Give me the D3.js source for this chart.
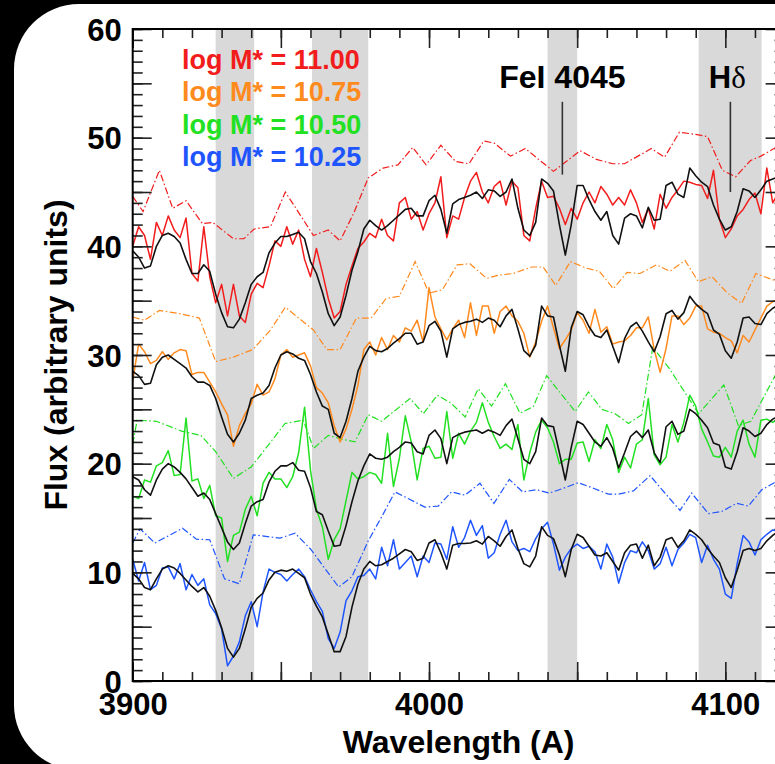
<!DOCTYPE html>
<html>
<head>
<meta charset="utf-8">
<script src="https://cdn.jsdelivr.net/npm/d3@7"></script>
<style>
body { margin: 0; background: #000; }
svg { display: block; }
text { font-family: "Liberation Sans", Arial, Helvetica, sans-serif; font-weight: bold; }
</style>
</head>
<body>
<svg id="chart" width="775" height="764"></svg>
<script>
// sampling grid of the stacked spectra (Angstrom)
const waveGrid = d3.range(3900, 4121, 2);

// stacked spectra, one value per grid point
const redFlux = [
	40.0, 41.8, 41.0, 38.8, 42.2, 41.0, 42.8, 41.5, 40.8, 42.6,
	37.5, 36.8, 41.8, 37.2, 34.8, 36.5, 33.6, 36.5, 33.6, 33.0,
	35.6, 36.6, 36.2, 38.2, 40.5, 40.0, 41.8, 40.2, 41.5, 38.8,
	37.2, 39.8, 37.6, 35.2, 33.4, 34.0, 36.5, 38.2, 39.8, 40.4,
	41.2, 40.8, 42.5, 41.0, 40.5, 44.0, 44.5, 42.5, 43.2, 41.5,
	43.0, 44.0, 46.4, 40.8, 42.8, 42.5, 44.5, 46.0, 46.8, 45.0,
	44.0, 45.5, 46.0, 43.8, 46.0, 45.4, 41.0, 40.5, 43.5, 46.0,
	44.5, 44.6, 43.5, 42.0, 43.5, 42.5, 44.0, 45.0, 44.0, 45.5,
	44.8, 43.8, 44.5, 43.8, 45.2, 44.0, 42.2, 43.5, 41.6, 44.8,
	43.5, 44.5, 45.2, 46.0, 45.9, 45.7, 45.6, 44.4, 47.0, 42.5,
	40.8, 41.6, 42.8, 43.4, 44.3, 44.9, 43.0, 47.2, 44.0, 45.0,
	44.5
];
const redModel = [
	39.6, 39.0, 38.0, 38.2, 40.0, 41.0, 41.2, 40.9, 40.3, 38.8,
	37.5, 37.5, 38.3, 37.7, 35.6, 33.9, 32.6, 32.5, 33.3, 34.8,
	36.5, 37.2, 37.6, 39.4, 40.3, 40.9, 40.9, 41.1, 41.3, 40.7,
	38.6, 37.5, 35.8, 33.8, 32.7, 33.5, 35.5, 37.8, 39.5, 41.6,
	42.4, 41.9, 41.5, 41.9, 42.4, 42.9, 43.4, 43.5, 42.8, 42.8,
	44.2, 44.7, 43.4, 41.2, 43.9, 44.3, 44.5, 44.7, 45.0, 44.4,
	45.2, 45.1, 44.6, 45.0, 46.2, 43.5, 41.5, 41.0, 42.2, 46.2,
	45.8, 45.1, 42.0, 39.2, 42.0, 45.6, 45.6, 44.3, 43.2, 42.4,
	43.2, 41.0, 40.2, 42.6, 43.0, 42.8, 41.7, 43.6, 42.4, 42.5,
	45.6, 45.9, 44.8, 44.5, 47.2, 46.5, 45.9, 45.5, 43.8, 42.5,
	41.5, 41.8, 43.2, 45.3, 45.1, 44.5, 45.2, 46.0, 46.2, 46.4,
	46.5
];
const orangeFlux = [
	27.6, 31.0, 30.3, 29.2, 29.5, 30.3, 29.6, 30.2, 30.5, 30.4,
	28.2, 28.4, 28.4, 27.5, 26.6, 25.5, 24.5, 21.6, 23.5, 24.6,
	25.5, 27.3, 26.3, 26.6, 27.8, 30.0, 30.5, 29.8, 30.0, 30.2,
	29.0, 27.0, 26.5, 25.6, 23.5, 22.0, 23.2, 25.0, 27.2, 30.5,
	31.2, 30.0, 31.6, 30.5, 31.8, 31.2, 32.5, 32.2, 33.2, 31.2,
	36.2, 33.5, 32.4, 31.4, 32.4, 33.2, 31.6, 34.8, 31.8, 34.5,
	34.5, 32.0, 34.0, 34.5, 33.6, 33.1, 32.0, 29.8, 31.2, 33.1,
	34.5, 32.5, 30.6, 31.4, 32.3, 33.9, 33.2, 32.0, 34.2, 32.1,
	32.6, 31.0, 31.2, 31.3, 31.8, 32.5, 32.5, 33.5, 30.5, 28.4,
	30.6, 33.6, 33.6, 32.8, 33.4, 34.5, 34.5, 32.4, 32.1, 32.0,
	31.6, 31.3, 30.2, 31.8, 31.2, 32.3, 33.4, 34.5, 34.9, 35.2,
	35.0
];
const orangeModel = [
	28.5, 28.1, 27.3, 27.4, 29.1, 29.8, 30.0, 29.6, 29.2, 28.8,
	28.0, 27.5, 27.5, 27.2, 26.0, 24.3, 22.7, 22.0, 22.8, 24.0,
	26.0, 26.3, 26.5, 27.2, 28.8, 30.0, 30.3, 30.1, 29.7, 29.5,
	28.2, 26.6, 25.3, 25.0, 22.8, 22.4, 23.9, 26.0, 28.5, 29.8,
	30.8, 30.4, 30.3, 30.6, 31.1, 31.5, 32.0, 32.0, 31.0, 31.2,
	32.7, 33.1, 32.2, 29.8, 32.4, 32.8, 33.0, 33.1, 33.3, 33.0,
	33.4, 33.2, 32.6, 33.6, 34.2, 32.4, 30.4, 29.9, 30.9, 34.5,
	33.6, 33.5, 30.9, 28.5, 32.5, 34.0, 33.7, 32.6, 31.8, 31.6,
	32.3, 30.8, 29.3, 31.5, 32.6, 33.0, 32.2, 31.2, 30.3, 31.7,
	33.8, 34.1, 33.3, 33.9, 35.4, 34.7, 34.2, 33.8, 32.3, 31.9,
	30.4, 29.7, 31.2, 33.4, 33.5, 32.9, 32.8, 33.8, 34.3, 34.6,
	34.8
];
const greenFlux = [
	17.0, 16.8, 18.5, 18.3, 19.8, 20.1, 21.2, 18.9, 19.0, 24.2,
	18.4, 18.6, 16.8, 18.0, 15.2, 15.0, 11.0, 13.4, 13.7, 15.8,
	17.0, 15.2, 18.2, 19.2, 18.6, 18.6, 17.8, 18.8, 21.0, 25.2,
	19.4, 15.8, 14.2, 11.2, 13.0, 14.0, 16.6, 19.2, 18.6, 18.8,
	19.2, 19.0, 18.2, 22.8, 17.9, 20.5, 24.4, 22.0, 18.5, 21.4,
	21.6, 20.5, 20.6, 24.8, 20.5, 22.8, 21.8, 23.0, 23.8, 25.6,
	23.8, 22.5, 21.4, 21.8, 21.3, 23.6, 18.5, 21.0, 22.9, 24.0,
	23.3, 22.0, 20.0, 20.4, 20.4, 21.9, 22.0, 20.2, 22.2, 21.4,
	23.6, 22.2, 19.2, 20.6, 19.6, 21.8, 22.2, 26.0, 20.8, 19.9,
	20.6, 23.6, 22.0, 23.8, 26.3, 25.3, 23.2, 22.0, 20.7, 20.6,
	21.5, 20.6, 23.0, 24.0, 21.8, 20.6, 24.0, 24.1, 23.8, 24.2,
	24.0
];
const greenModel = [
	18.8, 18.5, 17.6, 17.1, 18.5, 19.5, 20.0, 19.7, 19.2, 18.6,
	17.8, 17.0, 17.3, 16.7, 15.4, 14.1, 12.8, 12.1, 12.7, 14.5,
	16.1, 16.5, 16.7, 18.3, 19.3, 19.8, 19.8, 20.1, 19.4, 19.3,
	17.8, 15.6, 15.3, 13.8, 12.4, 12.5, 14.3, 16.5, 18.4, 19.8,
	20.9, 20.5, 20.4, 20.6, 21.1, 21.5, 22.0, 21.9, 21.1, 20.9,
	22.6, 23.1, 22.3, 20.0, 22.4, 22.7, 22.9, 23.0, 23.1, 22.8,
	23.1, 22.9, 22.6, 23.5, 24.1, 22.3, 20.4, 20.0, 21.1, 24.2,
	23.5, 23.4, 21.0, 18.5, 21.5, 23.9, 23.6, 22.8, 22.0, 21.6,
	22.4, 21.4, 19.6, 21.0, 22.5, 23.0, 22.4, 23.1, 21.0, 20.1,
	23.4, 23.9, 22.7, 23.0, 25.0, 24.6, 24.0, 23.3, 21.9, 21.7,
	19.7, 19.5, 21.1, 23.3, 23.0, 22.5, 22.8, 23.6, 24.1, 24.4,
	24.6
];
const blueFlux = [
	11.2, 9.2, 10.9, 8.4, 8.8, 10.4, 10.5, 9.4, 10.8, 8.4,
	9.8, 8.8, 9.4, 7.0, 6.2, 4.8, 1.4, 2.3, 3.6, 6.0,
	7.3, 5.0, 8.2, 10.3, 10.0, 9.8, 9.2, 9.8, 10.3, 9.6,
	8.4, 7.3, 6.4, 3.9, 3.0, 4.5, 7.4, 8.3, 9.6, 9.7,
	10.3, 9.4, 12.3, 10.6, 13.0, 10.3, 10.9, 11.5, 9.6, 11.5,
	10.9, 12.7, 12.6, 11.2, 14.2, 12.3, 13.2, 14.8, 13.4, 14.3,
	11.3, 11.8, 13.5, 14.8, 12.8, 12.0, 12.2, 11.9, 13.1, 14.0,
	14.6, 12.6, 10.2, 11.4, 12.2, 12.6, 12.2, 12.4, 11.9, 10.3,
	12.6, 11.4, 9.0, 10.9, 12.0, 11.8, 12.8, 12.0, 10.3, 10.8,
	12.3, 10.6, 12.1, 12.7, 13.5, 13.2, 10.9, 12.5, 11.2, 10.3,
	8.0, 7.6, 10.8, 13.4, 12.8, 11.6, 13.0, 13.5, 13.9, 13.8,
	14.0
];
const blueModel = [
	9.9, 9.4, 8.6, 8.4, 9.4, 10.3, 10.6, 10.4, 9.9, 9.3,
	8.7, 8.2, 8.6, 7.8, 6.5, 4.9, 3.0, 2.2, 3.0, 4.8,
	6.8, 7.6, 8.1, 9.3, 10.0, 10.2, 10.1, 10.3, 9.9, 9.5,
	8.0, 6.9, 5.9, 4.3, 2.7, 2.7, 4.1, 6.8, 8.9, 10.3,
	11.0, 10.6, 10.7, 11.0, 11.3, 11.7, 12.1, 11.9, 11.1, 11.3,
	12.7, 13.0, 11.8, 10.3, 12.5, 12.65, 12.65, 12.7, 12.9, 12.6,
	13.3, 12.9, 12.4, 13.3, 13.9, 12.2, 10.8, 10.5, 11.5, 14.2,
	13.4, 13.1, 11.6, 9.6, 12.1, 13.5, 13.2, 12.4, 11.6, 11.5,
	11.8, 11.0, 10.2, 11.8, 12.5, 12.6, 11.3, 12.5, 10.6, 11.4,
	13.0, 13.2, 12.3, 12.9, 13.9, 13.5, 13.0, 12.2, 11.5, 10.9,
	9.5, 8.6, 10.2, 12.0, 12.2, 12.0, 12.2, 12.9, 13.4, 13.8,
	14.0
];

// dash-dot curves above each spectrum (own wavelength nodes)
const redDashWave = [3900, 3903.5, 3909, 3913.5, 3918, 3923.5, 3927, 3934, 3937.5, 3941, 3946.5, 3951.5, 3956.5, 3961, 3966, 3970, 3974.5, 3979.5, 3984.5, 3989.5, 3994.5, 3999, 4004, 4009, 4013.5, 4018.5, 4022, 4027.5, 4032.5, 4037, 4042, 4051, 4056.5, 4062, 4066, 4075, 4079.5, 4084.5, 4090, 4094, 4099, 4103.5, 4108.5, 4112, 4117, 4120];
const redDash = [44.6, 43.2, 47.0, 43.5, 44.2, 42.1, 42.2, 40.7, 40.7, 41.6, 41.8, 45.0, 42.9, 41.0, 41.5, 40.5, 43.0, 46.3, 47.2, 47.5, 49.1, 47.5, 49.3, 47.8, 47.6, 49.7, 49.5, 48.3, 49.0, 48.0, 46.9, 48.8, 48.0, 47.6, 47.6, 49.0, 48.2, 50.5, 50.3, 50.1, 47.0, 46.4, 47.9, 48.3, 49.1, 49.8];
const orangeDashWave = [3900, 3904, 3909, 3916, 3922.5, 3928, 3934, 3940.5, 3946.5, 3951.5, 3961, 3965.5, 3970, 3975.5, 3980.5, 3985.5, 3990, 3995.3, 4000, 4004.5, 4009.5, 4013.8, 4019.5, 4023.5, 4028.5, 4034.6, 4038.5, 4042.8, 4047.7, 4053, 4057.5, 4062.2, 4066.8, 4071.2, 4076.8, 4081.3, 4086.4, 4090.9, 4095.5, 4100.7, 4105.5, 4110.3, 4116.2, 4120];
const orangeDash = [33.5, 33.2, 34.1, 33.8, 33.4, 29.4, 29.8, 30.5, 32.3, 34.4, 32.3, 30.5, 30.5, 33.4, 33.4, 35.2, 35.4, 38.6, 35.7, 36.0, 38.3, 38.4, 37.05, 37.35, 37.5, 38.1, 38.1, 36.4, 38.6, 38.0, 37.7, 36.1, 37.6, 37.5, 38.3, 37.7, 38.7, 36.75, 37.2, 35.7, 34.75, 37.5, 36.9, 37.5];
const greenDashWave = [3900, 3901.5, 3908, 3916.5, 3923, 3928, 3934, 3940, 3946.3, 3951.4, 3957.6, 3961, 3966, 3970, 3975, 3979.5, 3984, 3993.6, 3998.1, 4002.8, 4007.3, 4012.2, 4016.6, 4021.1, 4025.8, 4030.7, 4035.2, 4039.7, 4049.3, 4053.8, 4058.3, 4062.8, 4067.3, 4071.8, 4075.5, 4081, 4091, 4099.5, 4104.4, 4108.6, 4117, 4120];
const greenDash = [21.8, 24.0, 23.9, 23.0, 22.6, 21.1, 18.65, 19.7, 21.9, 23.7, 24.0, 21.4, 22.6, 22.3, 22.0, 24.5, 23.9, 26.0, 24.6, 26.3, 25.6, 24.3, 26.9, 25.3, 27.35, 24.65, 25.25, 28.1, 24.8, 26.6, 25.0, 24.6, 23.7, 24.5, 30.7, 28.8, 24.6, 27.25, 23.5, 23.9, 28.2, 29.0];
const blueDashWave = [3900, 3902.5, 3907.5, 3916.8, 3921.5, 3926, 3931, 3936, 3940.7, 3949.7, 3954.8, 3960, 3969.5, 3974, 3979.5, 3984, 3988.5, 3993.6, 3998.6, 4003.1, 4007.6, 4012.1, 4017.2, 4021.9, 4027.1, 4031.6, 4036.3, 4040.6, 4045, 4050.4, 4054.9, 4060.5, 4064, 4069, 4074.6, 4079.6, 4084.7, 4088.6, 4094.3, 4098.8, 4103.8, 4107.8, 4112.3, 4116.2, 4120];
const blueDash = [12.7, 14.0, 12.7, 14.05, 13.05, 13.0, 9.4, 8.95, 13.45, 13.15, 13.6, 12.15, 8.65, 9.6, 12.9, 15.1, 17.4, 16.7, 16.0, 16.1, 17.4, 17.1, 18.2, 16.35, 18.55, 17.4, 17.6, 17.3, 17.7, 18.25, 17.8, 17.2, 17.2, 17.5, 18.9, 17.3, 15.7, 17.3, 15.4, 15.6, 16.35, 16.1, 17.6, 18.2, 18.9];

// shaded index windows [start, end] in Angstrom
const bandStart = [3928, 3960.5, 4040, 4091];
const bandEnd = [3941, 3979.5, 4050, 4112.25];

const legendLabels = ["log M* = 11.00", "log M* = 10.75", "log M* = 10.50", "log M* = 10.25"];
const seriesColors = ["#f21c1c", "#ff8a1e", "#22e022", "#1f55ff"];

const yMajorTicks = d3.range(0, 61, 5);
const yMinorTicks = d3.range(0, 61, 1);
const xMajorTicks = [3900, 3950, 4000, 4050, 4100];
const xMinorTicks = d3.range(3900, 4121, 10);

var svg = d3.select("#chart");

// rounded white panel on the black page
svg.append("rect")
	.attr("x", 14)
	.attr("y", 4)
	.attr("width", 860)
	.attr("height", 766)
	.attr("rx", 65)
	.attr("fill", "#fff");

var plotLeft = 132.7, plotRight = 784.6, plotTop = 29, plotBottom = 681;
var x = d3.scaleLinear().domain([3900, 4120]).range([plotLeft, plotRight]);
var y = d3.scaleLinear().domain([0, 60]).range([plotBottom, plotTop]);

// grey bands
svg.append("g")
	.selectAll("rect")
	.data(d3.zip(bandStart, bandEnd))
	.enter()
	.append("rect")
	.attr("x", function (d) { return x(d[0]); })
	.attr("y", plotTop)
	.attr("width", function (d) { return x(d[1]) - x(d[0]); })
	.attr("height", plotBottom - plotTop)
	.attr("fill", "#d9d9d9");

var line = d3.line()
	.x(function (d) { return x(d[0]); })
	.y(function (d) { return y(d[1]); });

var dashSets = [
	[redDashWave, redDash], [orangeDashWave, orangeDash],
	[greenDashWave, greenDash], [blueDashWave, blueDash]
];
var fluxSets = [redFlux, orangeFlux, greenFlux, blueFlux];
var modelSets = [redModel, orangeModel, greenModel, blueModel];

var lines = svg.append("g");

dashSets.forEach(function (s, i) {
	lines.append("path")
		.attr("d", line(d3.zip(s[0], s[1])))
		.attr("fill", "none")
		.attr("stroke", seriesColors[i])
		.attr("stroke-width", 1.2)
		.attr("stroke-dasharray", "7,2.5,1.5,2.5");
});

fluxSets.forEach(function (f, i) {
	lines.append("path")
		.attr("d", line(d3.zip(waveGrid, f)))
		.attr("fill", "none")
		.attr("stroke", seriesColors[i])
		.attr("stroke-width", 1.5)
		.attr("stroke-linejoin", "round");
});

modelSets.forEach(function (m) {
	lines.append("path")
		.attr("d", line(d3.zip(waveGrid, m)))
		.attr("fill", "none")
		.attr("stroke", "#111")
		.attr("stroke-width", 1.6)
		.attr("stroke-linejoin", "round");
});

// axes: ticks point into the plot
function styleAxis(g) {
	g.select(".domain").remove();
	g.selectAll(".tick line").attr("stroke", "#222").attr("stroke-width", 1.6);
}

svg.append("g")
	.attr("transform", "translate(" + plotLeft + ",0)")
	.call(d3.axisLeft(y).tickValues(yMinorTicks).tickSize(-10).tickFormat(""))
	.call(styleAxis);
svg.append("g")
	.attr("transform", "translate(" + plotLeft + ",0)")
	.call(d3.axisLeft(y).tickValues(yMajorTicks).tickSize(-19).tickPadding(11)
		.tickFormat(function (d) { return d % 10 === 0 ? d : ""; }))
	.call(styleAxis)
	.selectAll("text")
	.attr("font-size", 31)
	.attr("fill", "#000")
	.attr("dy", "0.36em");

svg.append("g")
	.attr("transform", "translate(" + plotRight + ",0)")
	.call(d3.axisRight(y).tickValues(yMinorTicks).tickSize(-10).tickFormat(""))
	.call(styleAxis);
svg.append("g")
	.attr("transform", "translate(" + plotRight + ",0)")
	.call(d3.axisRight(y).tickValues(yMajorTicks).tickSize(-19).tickFormat(""))
	.call(styleAxis);

svg.append("g")
	.attr("transform", "translate(0," + plotBottom + ")")
	.call(d3.axisBottom(x).tickValues(xMinorTicks).tickSize(-9).tickFormat(""))
	.call(styleAxis);
svg.append("g")
	.attr("transform", "translate(0," + plotBottom + ")")
	.call(d3.axisBottom(x).tickValues(xMajorTicks).tickSize(-19).tickPadding(12)
		.tickFormat(function (d) { return d % 100 === 0 ? d : ""; }))
	.call(styleAxis)
	.selectAll("text")
	.attr("font-size", 31)
	.attr("fill", "#000");

svg.append("g")
	.attr("transform", "translate(0," + plotTop + ")")
	.call(d3.axisTop(x).tickValues(xMinorTicks).tickSize(-9).tickFormat(""))
	.call(styleAxis);
svg.append("g")
	.attr("transform", "translate(0," + plotTop + ")")
	.call(d3.axisTop(x).tickValues(xMajorTicks).tickSize(-19).tickFormat(""))
	.call(styleAxis);

// frame
svg.append("rect")
	.attr("x", plotLeft)
	.attr("y", plotTop)
	.attr("width", plotRight - plotLeft)
	.attr("height", plotBottom - plotTop)
	.attr("fill", "none")
	.attr("stroke", "#000")
	.attr("stroke-width", 2);

// axis titles
svg.append("text")
	.attr("x", (plotLeft + plotRight) / 2)
	.attr("y", 753)
	.attr("text-anchor", "middle")
	.attr("font-size", 32)
	.text("Wavelength (A)");

svg.append("text")
	.attr("transform", "translate(67," + (plotTop + plotBottom) / 2 + ") rotate(-90)")
	.attr("text-anchor", "middle")
	.attr("font-size", 32)
	.text("Flux (arbitrary units)");

// legend
svg.append("g")
	.selectAll("text")
	.data(legendLabels)
	.enter()
	.append("text")
	.attr("x", 182)
	.attr("y", function (d, i) { return 69 + i * 32.3; })
	.attr("font-size", 27)
	.attr("fill", function (d, i) { return seriesColors[i]; })
	.text(function (d) { return d; });

// line markers
svg.append("text")
	.attr("x", x(4045))
	.attr("y", 88)
	.attr("text-anchor", "middle")
	.attr("font-size", 32)
	.text("FeI 4045");
svg.append("line")
	.attr("x1", x(4045)).attr("x2", x(4045))
	.attr("y1", y(53.3)).attr("y2", y(46.6))
	.attr("stroke", "#333").attr("stroke-width", 1.6);

var hd = svg.append("text")
	.attr("x", x(4101.7) - 3)
	.attr("y", 88)
	.attr("text-anchor", "middle")
	.attr("font-size", 31);
hd.append("tspan").text("H");
hd.append("tspan")
	.attr("font-family", "'Liberation Serif', 'DejaVu Serif', serif")
	.attr("font-weight", "normal")
	.text("δ");
svg.append("line")
	.attr("x1", x(4101.7)).attr("x2", x(4101.7))
	.attr("y1", y(53.3)).attr("y2", y(45.0))
	.attr("stroke", "#333").attr("stroke-width", 1.6);
</script>
</body>
</html>
